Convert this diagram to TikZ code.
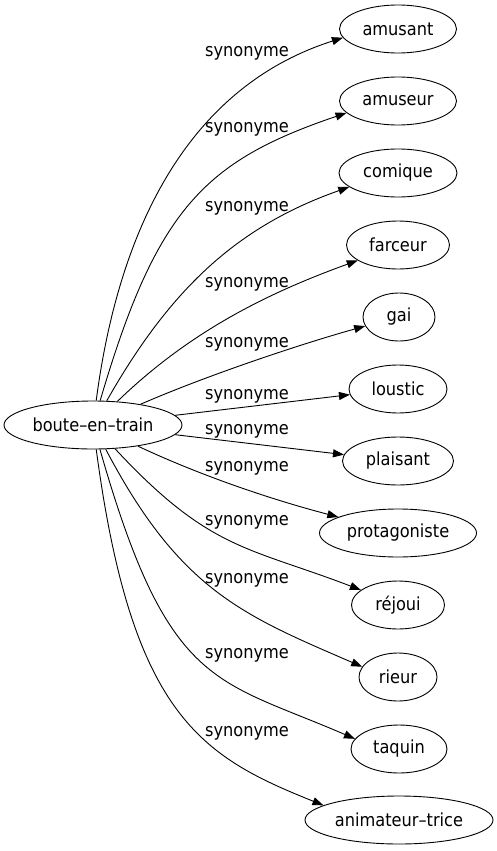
\documentclass[tikz,border=0pt]{standalone}
\usepackage{fontspec}
\setmainfont{DejaVu Sans Condensed}
\usetikzlibrary{shapes.geometric,arrows.meta}
\begin{document}
\begin{tikzpicture}[x=1bp,y=-1bp,
  every node/.style={font=\fontsize{18bp}{21bp}\selectfont},
  word/.style={draw,ellipse,inner sep=0pt,minimum height=48bp,line width=0.9bp},
  lbl/.style={anchor=base,inner sep=0pt},
  syn/.style={-{Triangle[length=11bp,width=8bp]},line width=0.9bp}]
\useasboundingbox (0,0) rectangle (497,851);
\node[word,minimum width=178bp] (src) at (93,425) {boute–en–train};
\node[word,minimum width=117bp] (amusant) at (398,29) {amusant};
\node[word,minimum width=117bp] (amuseur) at (398,101) {amuseur};
\node[word,minimum width=118bp] (comique) at (398,173) {comique};
\node[word,minimum width=103bp] (farceur) at (398,245) {farceur};
\node[word,minimum width=72bp] (gai) at (399,317) {gai};
\node[word,minimum width=98bp] (loustic) at (398,389) {loustic};
\node[word,minimum width=111bp] (plaisant) at (398,461) {plaisant};
\node[word,minimum width=157bp] (protagoniste) at (398,533) {protagoniste};
\node[word,minimum width=93bp] (rejoui) at (398,605) {réjoui};
\node[word,minimum width=78bp] (rieur) at (398,677) {rieur};
\node[word,minimum width=96bp] (taquin) at (399,749) {taquin};
\node[word,minimum width=188bp] (anim) at (399,820) {animateur–trice};

\draw[syn] (src) .. controls (119.5,222.8) and (191.4,86) .. (amusant.189.5);
\draw[syn] (src) .. controls (156.4,209.2) and (204,161.2) .. (amuseur.193);
\draw[syn] (src) .. controls (170,289.4) and (236.7,226.6) .. (comique.196.3);
\draw[syn] (src) .. controls (187,334) and (262.9,294.7) .. (farceur.201.3);
\draw[syn] (src) .. controls (203,377) and (296.4,345.3) .. (gai.195.9);
\draw[syn] (src) -- (loustic);
\draw[syn] (src) -- (plaisant);
\draw[syn] (src) .. controls (198.8,474.8) and (269.4,499) .. (protagoniste.165.3);
\draw[syn] (src) .. controls (209.5,550.5) and (248,546.8) .. (rejoui.158);
\draw[syn] (src) .. controls (179.9,590.4) and (242.8,615.1) .. (rieur.164.5);
\draw[syn] (src) .. controls (168.3,689) and (215.3,678.4) .. (taquin.167.5);
\draw[syn] (src) .. controls (131.7,716.3) and (201.5,756.4) .. (anim.169);

\node[lbl] (l1) at (247,56) {synonyme};
\node[lbl] (l2) at (247,132) {synonyme};
\node[lbl] (l3) at (247,211) {synonyme};
\node[lbl] (l4) at (247,287) {synonyme};
\node[lbl] (l5) at (247,347) {synonyme};
\node[lbl] (l6) at (247,399) {synonyme};
\node[lbl] (l7) at (247,434) {synonyme};
\node[lbl] (l8) at (247,471) {synonyme};
\node[lbl] (l9) at (247,525) {synonyme};
\node[lbl] (l10) at (247,583) {synonyme};
\node[lbl] (l11) at (247,658) {synonyme};
\node[lbl] (l12) at (247,736) {synonyme};
\end{tikzpicture}
\end{document}
